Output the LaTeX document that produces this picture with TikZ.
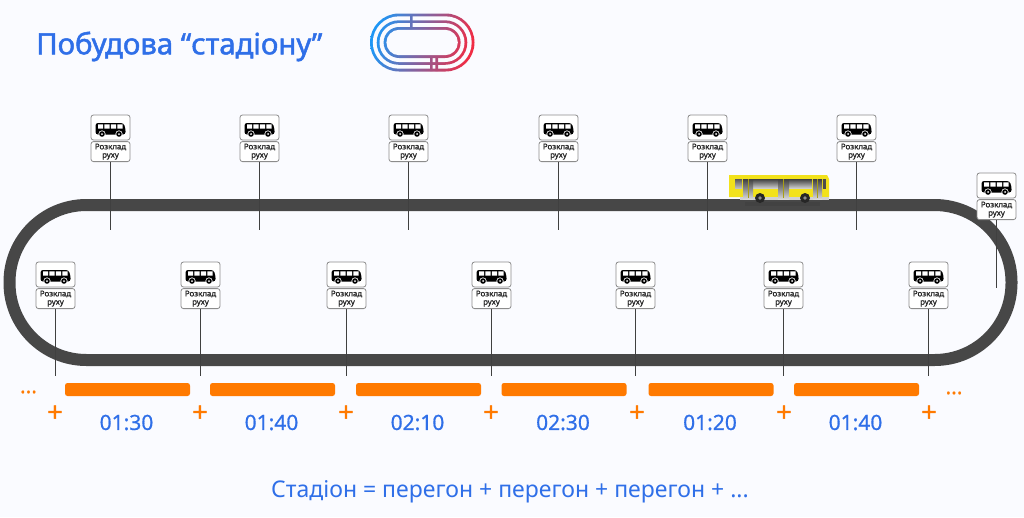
\documentclass[tikz,border=0pt]{standalone}
\usepackage{fontspec}
\setmainfont{Noto Sans}
\newfontfamily\heavyf[FakeBold=1.6]{Noto Sans}
\newfontfamily\medf[FakeBold=0.7]{Noto Sans}
\newfontfamily\signf[FakeBold=1.3]{Noto Sans}
\definecolor{bgc}{HTML}{FAFBFF}
\definecolor{bluet}{HTML}{2F6FE8}
\definecolor{orangec}{HTML}{FF7A00}
\definecolor{trackc}{HTML}{474747}
\definecolor{busy}{HTML}{F2E21B}
\definecolor{logoa}{HTML}{1E96F5}
\definecolor{logob}{HTML}{F02C44}
\tikzset{
  track/.style={draw=trackc,line width=12pt},
  signtop/.style={draw=black!45,fill=white,line width=0.8pt,rounded corners=2.5pt,minimum width=39pt,minimum height=25pt,inner sep=0pt},
  signbot/.style={draw=black!45,fill=white,line width=0.8pt,rounded corners=2.5pt,minimum width=39pt,minimum height=20pt,inner sep=0pt,align=center,font=\signf\fontsize{7.9}{8.3}\selectfont,text=black!85},
  pole/.style={draw=black!75,line width=1.6pt},
  segbar/.style={fill=orangec,rounded corners=2.5pt,minimum height=13pt,minimum width=125pt,inner sep=0pt},
  plusm/.style={text=orangec,font=\heavyf\fontsize{27}{27}\selectfont,inner sep=0pt},
  timelab/.style={text=bluet,font=\medf\fontsize{21}{21}\selectfont,inner sep=0pt},
  dotsm/.style={text=orangec,font=\medf\fontsize{21}{21}\selectfont,inner sep=0pt},
  grad/.style={left color=logoa,right color=logob,shading angle=75}
}
% name, x, y of top-panel centre, pole end y
\newcommand{\roadsign}[4]{%
  \coordinate (#1end) at (#2,#4);
  \node[signtop] (#1top) at (#2,#3) {};
  \node[signbot,anchor=north] (#1bot) at ([yshift=-0.8pt]#1top.south) {Розклад\\руху};
  \draw[pole] (#1bot.south) -- (#1end);
  \begin{scope}[shift={(#1top.center)}]
    \fill[black,rounded corners=2.5pt] (-15,-4.5) -- (13,-4.5) -- (15,1) -- (15,7) -- (-15,7) -- cycle;
    \fill[white] (-12.5,-3.2) rectangle (-7.5,1) (-6.2,-3.2) rectangle (-1,1) (0.3,-3.2) rectangle (5.5,1) (6.8,-3.2) rectangle (12,1);
    \fill[white] (-8.5,6.5) circle (3.6) (8.5,6.5) circle (3.6);
    \fill[black] (-8.5,6.5) circle (2.8) (8.5,6.5) circle (2.8);
    \fill[white] (-8.5,6.5) circle (1) (8.5,6.5) circle (1);
  \end{scope}
}
\begin{document}
\begin{tikzpicture}[x=1pt,y=-1pt]
\useasboundingbox (0,0) rectangle (1024,517);
\fill[bgc] (0,0) rectangle (1024,517);
% title
\node[anchor=west,inner sep=0pt,text=bluet,font=\heavyf\fontsize{29.3}{29.3}\selectfont] (title) at (36,46.5) {Побудова “стадіону”};
% logo
\foreach \a/\b/\c/\d/\r in {370/474.5/13.5/71.5/29,376.7/467.3/20.3/64.8/22.2,383.6/460.6/27/58/15.5}{
  \begin{scope}
    \clip[rounded corners=\r pt] (\a,\c) rectangle (\b,\d);
    \shade[grad] (370,13) rectangle (475,72);
  \end{scope}
  \pgfmathsetmacro{\rr}{\r-2.8}
  \fill[bgc,rounded corners=\rr pt] (\a+2.8,\c+2.8) rectangle (\b-2.8,\d-2.8);
}
\begin{scope}
  \clip (410,14) rectangle (412.6,29) (430,56) rectangle (432.6,71) (435.4,56) rectangle (438,71);
  \shade[grad] (370,13) rectangle (475,72);
\end{scope}
% track
\draw[track,rounded corners=77pt] (9.5,205) rectangle (1011.5,360);
% yellow bus
\begin{scope}
  \fill[black!75,opacity=.6] (745,202) rectangle (820,206);
  \fill[busy] (729,175) -- (827,175) -- (829,179) -- (829,197) -- (729,197) -- cycle;
  \fill[black!18] (740,197) rectangle (829,200);
  \shade[top color=black!65,bottom color=black!25] (735,179) rectangle (742,188);
  \shade[top color=black!75,bottom color=black!20] (753,179) rectangle (778,188);
  \shade[top color=black!75,bottom color=black!20] (789,179) rectangle (812,188);
  \shade[top color=black!75,bottom color=black!15] (743,179) rectangle (753,199);
  \shade[top color=black!75,bottom color=black!15] (778,179) rectangle (789,199);
  \shade[top color=black!75,bottom color=black!15] (813,179) rectangle (822,199);
  \fill[black!70] (823,179) rectangle (826,189);
  \draw[busy!70!black,line width=0.8pt] (748,179) -- (748,198) (783.5,179) -- (783.5,198) (817.5,179) -- (817.5,198);
  \fill[black!85] (760,198) circle (5) (805,198) circle (5);
  \fill[black!45] (760,198) circle (1.8) (805,198) circle (1.8);
\end{scope}
% signs
\roadsign{a}{110.5}{127.5}{230}
\roadsign{b}{259.5}{127.5}{230}
\roadsign{c}{408.5}{127.5}{230}
\roadsign{d}{558.5}{127.5}{230}
\roadsign{e}{707.5}{127.5}{230}
\roadsign{f}{856.5}{127.5}{230}
\roadsign{g}{996.5}{185.5}{288}
\roadsign{h}{55.5}{274.5}{376}
\roadsign{i}{200.5}{274.5}{376}
\roadsign{j}{346.5}{274.5}{376}
\roadsign{k}{491.5}{274.5}{376}
\roadsign{l}{635.5}{274.5}{376}
\roadsign{m}{783.5}{274.5}{376}
\roadsign{n}{928.5}{274.5}{376}
% bars
\foreach \n/\x/\t in {1/127.5/01:30,2/272.5/01:40,3/418.5/02:10,4/564/02:30,5/711/01:20,6/856.5/01:40}{
  \node[segbar] (bar\n) at (\x,389.5) {};
  \node[timelab] (time\n) at (\x-1,422.5) {\t};
}
\foreach \n/\x in {1/55,2/200,3/346,4/491,5/637,6/784,7/929}{
  \node[plusm] (plus\n) at (\x,413.5) {+};
}
\node[dotsm] (dotsl) at (28.5,392) {...};
\node[dotsm] (dotsr) at (954,393) {...};
\node[text=bluet,inner sep=0pt,font=\fontsize{23}{23}\selectfont] (formula) at (510,492) {Стадіон = перегон + перегон + перегон + ...};
\end{tikzpicture}
\end{document}
